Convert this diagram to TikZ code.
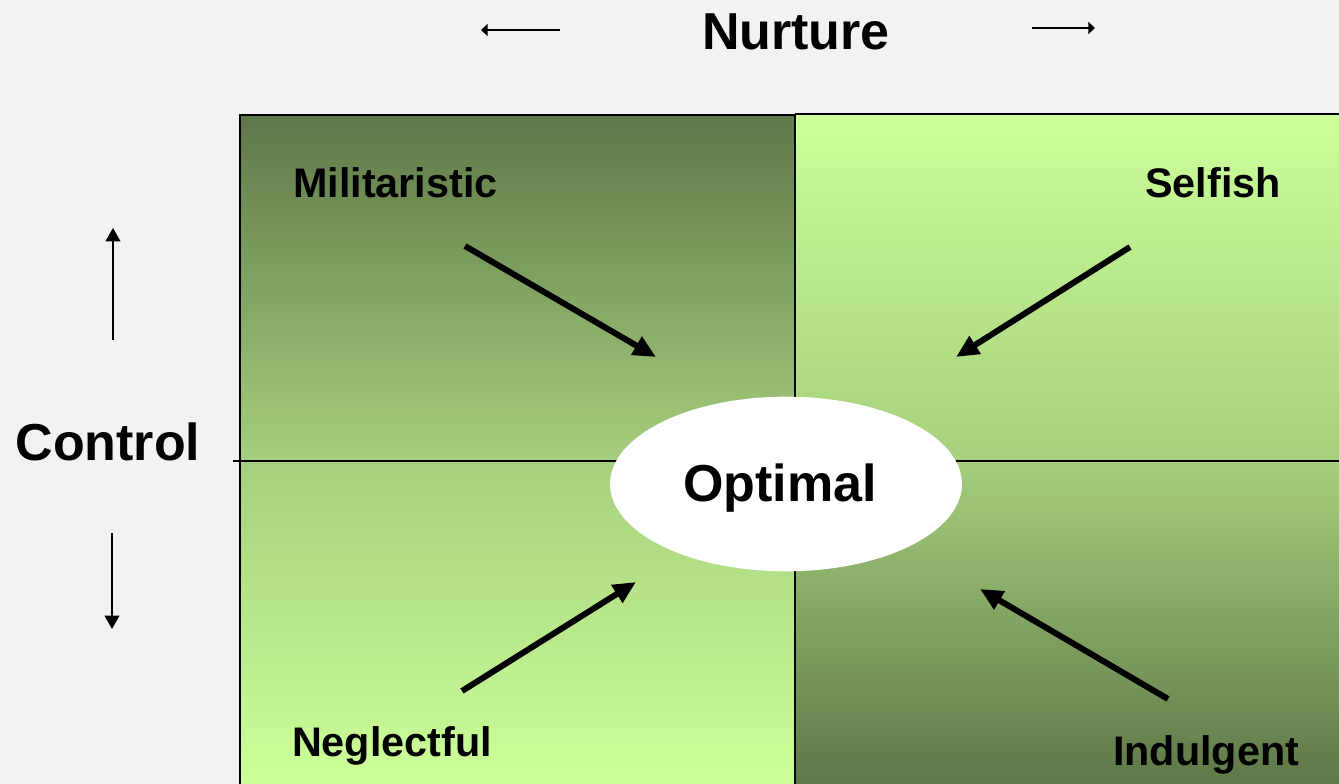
\documentclass[tikz,border=0pt]{standalone}
\usepackage{fontspec}
\setmainfont{Liberation Sans}
\usetikzlibrary{arrows.meta,shapes.geometric}
\definecolor{darkolive}{HTML}{5E7748}
\definecolor{midgreen}{HTML}{A6CF7D}
\definecolor{palegreen}{HTML}{CCFF99}
\definecolor{bggray}{HTML}{F2F2F2}
\begin{document}
\begin{tikzpicture}[x=0.75pt,y=-0.75pt]
        \tikzstyle{every node}=[font=\bfseries, inner sep=0pt];
        \tikzstyle{big}=[font=\bfseries\fontsize{39}{44}\selectfont];
        \tikzstyle{quadlabel}=[font=\bfseries\fontsize{31}{36}\selectfont];
        \tikzstyle{push}=[line width=4.5pt, -{Triangle[length=17pt,width=15pt]}];
        \tikzstyle{axis}=[line width=1.4pt, -{Triangle[length=10pt,width=11pt]}];
        \tikzstyle{flataxis}=[line width=1.4pt, -{Triangle[length=5pt,width=9pt]}];
        \useasboundingbox (0,0) rectangle (1339,784);
        \fill[bggray] (0,0) rectangle (1339,784);
        % quadrants
        \shade[top color=darkolive, bottom color=midgreen] (240,115) rectangle (795,461);
        \shade[top color=palegreen, bottom color=midgreen] (795,114) rectangle (1339,461);
        \shade[top color=midgreen, bottom color=palegreen] (240,461) rectangle (795,784);
        \shade[top color=midgreen, bottom color=darkolive] (795,461) rectangle (1339,784);
        \draw[line width=1pt] (240,784) -- (240,115) -- (795,115);
        \draw[line width=1pt] (795,114) -- (1339,114);
        \draw[line width=1pt] (795,114) -- (795,784);
        \draw[line width=1pt] (233,461) -- (1339,461);
        % labels
        \node[big] (nurture) at (796,32) {Nurture};
        \node[big] (control) at (108,442) {Control};
        \node[quadlabel, anchor=west] (mil) at (293,183) {Militaristic};
        \node[quadlabel] (self) at (1213,183) {Selfish};
        \node[quadlabel] (negl) at (392,746) {Neglectful};
        \node[quadlabel] (indu) at (1206,755) {Indulgent};
        \node[big, ellipse, fill=white, minimum width=264pt, minimum height=131pt] (opt) at (786,484) {};
        \node[big] (opttext) at (780,488) {Optimal};
        % arrow ends
        \coordinate (m1) at (465,246);
        \coordinate (m2) at (656,357);
        \coordinate (s1) at (1130,247);
        \coordinate (s2) at (956,357);
        \coordinate (n1) at (462,691);
        \coordinate (n2) at (636,582);
        \coordinate (i1) at (1168,699);
        \coordinate (i2) at (980,589);
        \coordinate (l1) at (560,30);
        \coordinate (l2) at (481,30);
        \coordinate (r1) at (1032,28);
        \coordinate (r2) at (1095,28);
        \coordinate (u1) at (113,340);
        \coordinate (u2) at (113,228);
        \coordinate (d1) at (112,533);
        \coordinate (d2) at (112,629);
        \draw[push] (m1)--(m2);
        \draw[push] (s1)--(s2);
        \draw[push] (n1)--(n2);
        \draw[push] (i1)--(i2);
        \draw[flataxis] (l1)--(l2);
        \draw[flataxis] (r1)--(r2);
        \draw[axis] (u1)--(u2);
        \draw[axis] (d1)--(d2);
    \end{tikzpicture}
\end{document}
